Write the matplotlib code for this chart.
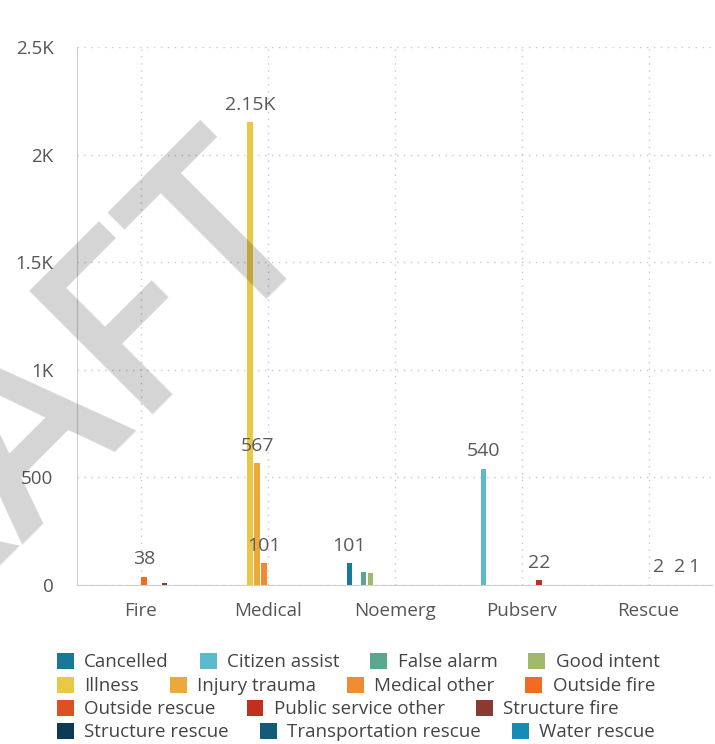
import matplotlib
matplotlib.use('Agg')
import matplotlib.pyplot as plt
from matplotlib.patches import Patch
import numpy as np

plt.rcParams['font.family'] = ['Open Sans', 'DejaVu Sans']

categories = ['Fire', 'Medical', 'Noemerg', 'Pubserv', 'Rescue']
series = ['Cancelled', 'Citizen assist', 'False alarm', 'Good intent',
          'Illness', 'Injury trauma', 'Medical other', 'Outside fire',
          'Outside rescue', 'Public service other', 'Structure fire',
          'Structure rescue', 'Transportation rescue', 'Water rescue']
colors = ['#17789a', '#5db9cc', '#5aa690', '#a0b96c',
          '#eac744', '#eca93b', '#f08b32', '#f06c22',
          '#dc5124', '#c0301f', '#8b3a31',
          '#0f3a55', '#125b79', '#178bb3']

cancelled = [0, 0, 101, 0, 0]
citizen_assist = [0, 0, 0, 540, 0]
false_alarm = [0, 0, 60, 0, 0]
good_intent = [0, 0, 55, 0, 0]
illness = [0, 2150, 0, 0, 0]
injury_trauma = [0, 567, 0, 0, 0]
medical_other = [0, 101, 0, 0, 0]
outside_fire = [38, 0, 0, 0, 0]
outside_rescue = [0, 0, 0, 0, 2]
public_service_other = [0, 0, 0, 22, 0]
structure_fire = [7, 0, 0, 0, 0]
structure_rescue = [0, 0, 0, 0, 2]
transportation_rescue = [0, 0, 0, 0, 0]
water_rescue = [0, 0, 0, 0, 1]

values = [cancelled, citizen_assist, false_alarm, good_intent, illness,
          injury_trauma, medical_other, outside_fire, outside_rescue,
          public_service_other, structure_fire, structure_rescue,
          transportation_rescue, water_rescue]

# labels the chart hid because they overlapped
hidden = {('Structure fire', 'Fire'), ('False alarm', 'Noemerg'),
          ('Good intent', 'Noemerg')}

yticks = [0, 500, 1000, 1500, 2000, 2500]
ytick_labels = ['0', '500', '1K', '1.5K', '2K', '2.5K']


def fmt(v):
    if v >= 1000:
        return ('%.2f' % (v / 1000)).rstrip('0').rstrip('.') + 'K'
    return str(v)


fig = plt.figure(figsize=(7.15, 7.44), dpi=100)
ax = fig.add_axes([77 / 715, 1 - 585 / 744, 635 / 715, 538 / 744])

x = np.arange(len(categories))
step = 0.055
n = len(series)
for i, (name, vals) in enumerate(zip(series, values)):
    pos = x + (i - (n - 1) / 2) * step
    ax.bar(pos, vals, width=0.04, color=colors[i], zorder=3)
    for p, v, c in zip(pos, vals, categories):
        if v > 0 and (name, c) not in hidden:
            ax.annotate(fmt(v), (p, v), xytext=(0, 6), textcoords='offset points',
                        ha='center', va='bottom', fontsize=14, color='#595959')

ax.set_xlim(-0.5, 4.5)
ax.set_ylim(0, 2500)
ax.set_xticks(x)
ax.set_xticklabels(categories, fontsize=13.5, color='#555555')
ax.set_yticks(yticks)
ax.set_yticklabels(ytick_labels, fontsize=13.5, color='#555555')
ax.tick_params(length=0)
ax.tick_params(axis='y', pad=17)
ax.tick_params(axis='x', pad=12)
ax.grid(True, linestyle=(0, (1, 4)), color='#c8c8c8', linewidth=1, zorder=0)
for s in ['top', 'right']:
    ax.spines[s].set_visible(False)
for s in ['left', 'bottom']:
    ax.spines[s].set_color('#d0d0d0')
ax.set_axisbelow(True)

# legend laid out as rows of flowing items
rows = [series[0:4], series[4:8], series[8:11], series[11:14]]
row_y = [662, 686, 709, 732]
for names, yy in zip(rows, row_y):
    handles = [Patch(facecolor=colors[series.index(nm)]) for nm in names]
    fig.legend(handles, names, loc='center left',
               bbox_to_anchor=(57 / 715, 1 - yy / 744), ncol=len(names),
               frameon=False, fontsize=13.5, handlelength=0.9, handleheight=1.0,
               handletextpad=0.55, columnspacing=1.65, borderaxespad=0,
               borderpad=0, labelcolor='#444444')

fig.text(5 / 715, 1 - 450 / 744, 'DRAFT', rotation=45, fontsize=176,
         fontweight='semibold', color='black', alpha=0.17, ha='center',
         va='center', rotation_mode='anchor', zorder=10)

fig.savefig('out.png', dpi=100)
